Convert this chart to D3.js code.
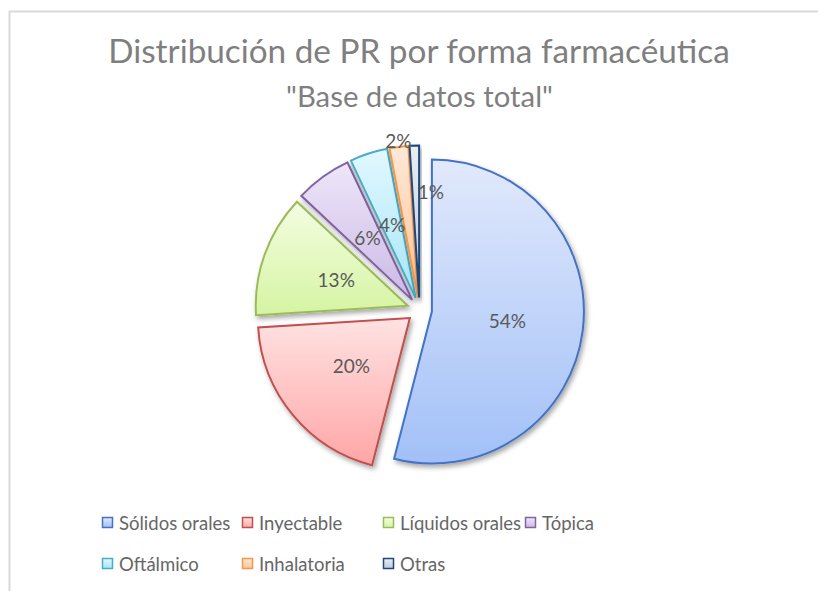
<!DOCTYPE html>
<html>
<head>
<meta charset="utf-8">
<script src="https://cdn.jsdelivr.net/npm/d3@7"></script>
<style>
  body { margin: 0; background: #fff; }
  svg text { font-family: Lato, "Open Sans", sans-serif; }
</style>
</head>
<body>
<div id="chart"></div>
<script>
(function(){
	var w = 818, h = 591;

	// datos
	var categories = ["Sólidos orales", "Inyectable", "Líquidos orales", "Tópica", "Oftálmico", "Inhalatoria", "Otras"];
	var values = [54, 20, 13, 6, 4, 2, 1];
	var labels = ["54%", "20%", "13%", "6%", "4%", "2%", "1%"];
	var strokeColors = ["#4472c4", "#c0504d", "#9bbb59", "#8064a2", "#4bacc6", "#f79646", "#1f497d"];
	var topColors = ["#e1e9fc", "#ffe2e2", "#f4fde2", "#eee6f8", "#e2f8fe", "#ffe9d8", "#e9edf3"];
	var bottomColors = ["#a2c0f7", "#ffa6a6", "#d5f4a2", "#cbb9e7", "#a6e5f8", "#fdc397", "#c0cada"];

	var cx = 419.5, cy = 310, radius = 152, explode = 12.5;

	var svg = d3.select("#chart")
		.append("svg")
		.attr("width", w)
		.attr("height", h);

	// marco del gráfico
	svg.append("path")
		.attr("d", "M9.5," + h + " L9.5,11.5 L" + w + ",11.5")
		.attr("fill", "none")
		.attr("stroke", "#d9d9d9")
		.attr("stroke-width", 2);

	var defs = svg.append("defs");
	var f = defs.append("filter").attr("id", "sombra")
		.attr("x", "-20%").attr("y", "-20%").attr("width", "140%").attr("height", "140%");
	f.append("feDropShadow")
		.attr("dx", 2).attr("dy", 3).attr("stdDeviation", 2.5)
		.attr("flood-color", "#000").attr("flood-opacity", 0.35);

	categories.forEach(function(c, i){
		var g = defs.append("linearGradient").attr("id", "grad" + i)
			.attr("x1", 0).attr("y1", 0).attr("x2", 0).attr("y2", 1);
		g.append("stop").attr("offset", "0%").attr("stop-color", topColors[i]);
		g.append("stop").attr("offset", "100%").attr("stop-color", bottomColors[i]);
	});

	// títulos
	function fit(sel, target){
		var len = sel.node().getComputedTextLength();
		var fs = parseFloat(sel.attr("font-size"));
		sel.attr("font-size", fs * target / len);
	}
	var t1 = svg.append("text")
		.attr("x", 419).attr("y", 63)
		.attr("text-anchor", "middle")
		.attr("fill", "#7f7f7f")
		.attr("font-size", 33)
		.text("Distribución de PR por forma farmacéutica");
	fit(t1, 622);
	var t2 = svg.append("text")
		.attr("x", 419.5).attr("y", 107)
		.attr("text-anchor", "middle")
		.attr("fill", "#7f7f7f")
		.attr("font-size", 26)
		.text("\"Base de datos total\"");
	fit(t2, 267);

	// pastel
	var pie = d3.pie().sort(null).value(function(d){ return d; });
	var arcs = pie(values);
	var arc = d3.arc().innerRadius(0).outerRadius(radius);

	function offset(d, r){
		var a = (d.startAngle + d.endAngle) / 2;
		return [Math.sin(a) * r, -Math.cos(a) * r];
	}

	var slices = svg.append("g")
		.attr("transform", "translate(" + cx + "," + cy + ")");

	slices.selectAll("path")
		.data(arcs)
		.enter()
		.append("path")
		.attr("transform", function(d){
			var o = offset(d, explode);
			return "translate(" + o[0] + "," + o[1] + ")";
		})
		.attr("d", arc)
		.attr("fill", function(d, i){ return "url(#grad" + i + ")"; })
		.attr("stroke", function(d, i){ return strokeColors[i]; })
		.attr("stroke-width", 2)
		.attr("stroke-linejoin", "miter")
		.attr("filter", "url(#sombra)");

	// etiquetas
	slices.selectAll("text")
		.data(arcs)
		.enter()
		.append("text")
		.attr("text-anchor", "middle")
		.attr("fill", "#595959")
		.attr("font-size", 19)
		.attr("dy", "0.35em")
		.attr("transform", function(d, i){
			var o = offset(d, explode);
			var p;
			if (i == 5){
				// muy pequeña: fuera del extremo
				p = offset(d, radius + 5);
			} else if (i == 6){
				p = offset(d, radius * 0.69);
				p[0] += 15;
			} else {
				p = offset(d, radius * 0.5);
			}
			return "translate(" + (o[0] + p[0]) + "," + (o[1] + p[1]) + ")";
		})
		.text(function(d, i){ return labels[i]; });

	// leyenda
	var colX = [102, 242, 383, 525];
	var rowY = [517, 558];
	var legend = svg.append("g").selectAll("g")
		.data(categories)
		.enter()
		.append("g")
		.attr("transform", function(d, i){
			return "translate(" + colX[i % 4] + "," + rowY[Math.floor(i / 4)] + ")";
		});
	legend.append("rect")
		.attr("x", 0.5).attr("y", 0.5)
		.attr("width", 10).attr("height", 10)
		.attr("fill", function(d, i){ return "url(#grad" + i + ")"; })
		.attr("stroke", function(d, i){ return strokeColors[i]; })
		.attr("stroke-width", 1.5);
	legend.append("text")
		.attr("x", 17).attr("y", 13)
		.attr("fill", "#666666")
		.attr("font-size", 18.5)
		.text(function(d){ return d; });
})();
</script>
</body>
</html>
